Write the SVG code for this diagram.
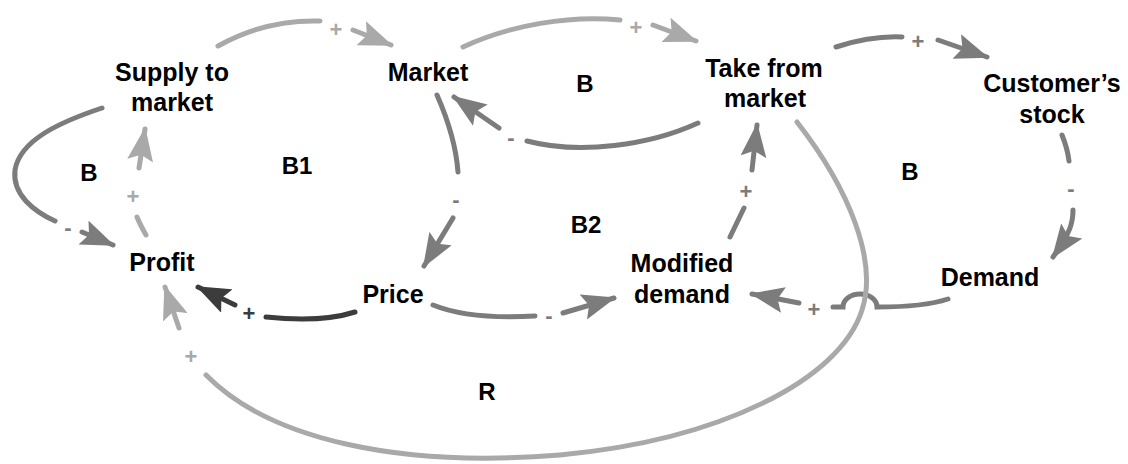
<svg xmlns="http://www.w3.org/2000/svg" width="1128" height="464" viewBox="0 0 1128 464">
<style>
.node{font-family:"Liberation Sans",Arial,sans-serif;font-weight:bold;font-size:25px;fill:#000;text-anchor:middle}
.loop{font-family:"Liberation Sans",Arial,sans-serif;font-weight:bold;font-size:24px;fill:#000;text-anchor:middle}
.sign{font-family:"Liberation Sans",Arial,sans-serif;font-weight:bold;font-size:22px;text-anchor:middle}
.ln{fill:none;stroke-width:5;stroke-linecap:round}
.light{stroke:#a9a9a9}
.mid{stroke:#7c7c7c}
.dark{stroke:#3c3c3c}
.tl{fill:#a9a9a9}
.tm{fill:#7c7c7c}
.td{fill:#3c3c3c}
</style>
<defs>
<marker id="aL" markerUnits="userSpaceOnUse" viewBox="0 0 34 26" markerWidth="34" markerHeight="26" refX="32" refY="13" orient="auto"><path d="M0,0 L34,13 L0,26 L6,13 Z" fill="#a9a9a9"/></marker>
<marker id="aM" markerUnits="userSpaceOnUse" viewBox="0 0 34 26" markerWidth="34" markerHeight="26" refX="32" refY="13" orient="auto"><path d="M0,0 L34,13 L0,26 L6,13 Z" fill="#7c7c7c"/></marker>
<marker id="aD" markerUnits="userSpaceOnUse" viewBox="0 0 34 26" markerWidth="34" markerHeight="26" refX="32" refY="13" orient="auto"><path d="M0,0 L34,13 L0,26 L6,13 Z" fill="#3c3c3c"/></marker>
</defs>
<rect width="1128" height="464" fill="#fff"/>
<g id="connectors">
<!-- Demand -> Modified demand (+) with hop -->
<path class="ln mid" d="M948,299 C930,305 905,307 877,307 A17,13 0 0 0 843,307 L833,307"/>
<text class="sign tm" x="814" y="317">+</text>
<path class="ln mid" d="M799,303 L752,294" marker-end="url(#aM)"/>
<!-- R loop: Take from market -> Profit -->
<path class="ln light" d="M797,122 C850,190 878,262 862,310 C840,380 720,440 560,455 C400,468 270,440 206,375"/>
<text class="sign tl" x="191" y="364">+</text>
<path class="ln light" d="M179,328 L165,287" marker-end="url(#aL)"/>
<!-- Supply -> Market -->
<path class="ln light" d="M218,46 C250,28 285,20 320,21"/>
<text class="sign tl" x="336" y="37">+</text>
<path class="ln light" d="M353,30 L391,45" marker-end="url(#aL)"/>
<!-- Market -> Take from market -->
<path class="ln light" d="M463,47 C510,25 570,15 620,20"/>
<text class="sign tl" x="636" y="35">+</text>
<path class="ln light" d="M653,25 L696,41" marker-end="url(#aL)"/>
<!-- Take -> Market (-) -->
<path class="ln mid" d="M698,123 C650,145 580,155 527,141"/>
<text class="sign tm" x="511" y="145">-</text>
<path class="ln mid" d="M499,128 L454,97" marker-end="url(#aM)"/>
<!-- Market -> Price (-) -->
<path class="ln mid" d="M437,95 C448,120 456,145 458,172"/>
<text class="sign tm" x="456" y="207">-</text>
<path class="ln mid" d="M453,218 L424,266" marker-end="url(#aM)"/>
<!-- Price -> Profit (+) -->
<path class="ln dark" d="M355,312 C330,320 295,320 266,317"/>
<text class="sign td" x="249" y="321">+</text>
<path class="ln dark" d="M235,305 L198,287" marker-end="url(#aD)"/>
<!-- Price -> Modified demand (-) -->
<path class="ln mid" d="M433,305 C460,316 500,318 535,316"/>
<text class="sign tm" x="549" y="323">-</text>
<path class="ln mid" d="M563,313 L614,298" marker-end="url(#aM)"/>
<!-- Modified demand -> Take (+) -->
<path class="ln mid" d="M730,237 L744,208"/>
<text class="sign tm" x="746" y="199">+</text>
<path class="ln mid" d="M752,170 L757,125" marker-end="url(#aM)"/>
<!-- Take -> Customer's stock (+) -->
<path class="ln mid" d="M836,47 C858,40 880,36 902,37"/>
<text class="sign tm" x="918" y="49">+</text>
<path class="ln mid" d="M938,40 L987,57" marker-end="url(#aM)"/>
<!-- Customer's stock -> Demand (-) -->
<path class="ln mid" d="M1062,135 C1066,145 1068,152 1069,161"/>
<text class="sign tm" x="1071" y="196">-</text>
<path class="ln mid" d="M1073,210 C1073,222 1071,232 1053,257" marker-end="url(#aM)"/>
<!-- Supply -> Profit (-) -->
<path class="ln mid" d="M102,108 C60,122 20,140 15,170 C12,195 35,212 55,221"/>
<text class="sign tm" x="68" y="235">-</text>
<path class="ln mid" d="M82,232 L113,245" marker-end="url(#aM)"/>
<!-- Profit -> Supply (+) -->
<path class="ln light" d="M146,235 C142,228 139,222 137,217"/>
<text class="sign tl" x="133" y="204">+</text>
<path class="ln light" d="M139,168 L145,129" marker-end="url(#aL)"/>
</g>
<g id="supply"><text class="node" x="172" y="81">Supply to</text><text class="node" x="172" y="111">market</text></g>
<g id="market"><text class="node" x="428" y="81">Market</text></g>
<g id="take"><text class="node" x="764" y="77">Take from</text><text class="node" x="765" y="107">market</text></g>
<g id="customer"><text class="node" x="1052" y="92">Customer’s</text><text class="node" x="1052" y="123">stock</text></g>
<g id="demand"><text class="node" x="990" y="286">Demand</text></g>
<g id="profit"><text class="node" x="162" y="271">Profit</text></g>
<g id="price"><text class="node" x="393" y="303">Price</text></g>
<g id="modified"><text class="node" x="682" y="272">Modified</text><text class="node" x="682" y="303">demand</text></g>
<g id="loops">
<text class="loop" x="89" y="181">B</text>
<text class="loop" x="297" y="174">B1</text>
<text class="loop" x="585" y="92">B</text>
<text class="loop" x="586" y="233">B2</text>
<text class="loop" x="910" y="180">B</text>
<text class="loop" x="487" y="400">R</text>
</g>
</svg>
